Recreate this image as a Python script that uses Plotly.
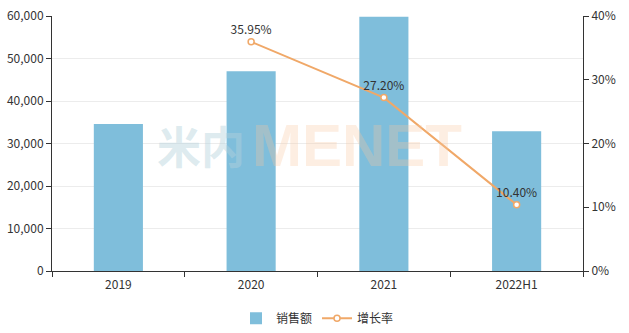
import plotly.graph_objects as go

categories = ["2019", "2020", "2021", "2022H1"]
sales = [34600, 47000, 59800, 32900]
growth = [None, 35.95, 27.20, 10.40]
growth_labels = ["", "35.95%", "27.20%", "10.40%"]
left_ticks = [0, 10000, 20000, 30000, 40000, 50000, 60000]
left_tick_text = ["0", "10,000", "20,000", "30,000", "40,000", "50,000", "60,000"]
right_ticks = [0, 10, 20, 30, 40]
right_tick_text = ["0%", "10%", "20%", "30%", "40%"]

FONT = "Noto Sans CJK SC"
BAR = "#7fbedb"
LINE = "#f0a868"

fig = go.Figure()
fig.add_trace(go.Bar(
    x=categories, y=sales, name="销售额", marker=dict(color=BAR, line=dict(width=0)),
    width=0.37, yaxis="y"))
fig.add_trace(go.Scatter(
    x=categories, y=growth, name="增长率", yaxis="y2",
    mode="lines+markers+text", text=growth_labels, textposition="top center",
    textfont=dict(color="#333", size=12, family=FONT),
    line=dict(color=LINE, width=2),
    marker=dict(size=6, color="white", line=dict(color=LINE, width=1.5))))

fig.add_annotation(x=0.367, y=0.494, xref="paper", yref="paper", xanchor="right",
                   text="<b>米内</b>",
                   showarrow=False, font=dict(size=44, color="rgba(180,210,220,0.45)",
                                              family=FONT, weight="bold"))
fig.add_annotation(x=0.373, y=0.494, xref="paper", yref="paper", xanchor="left",
                   text="<b>MENET</b>",
                   showarrow=False, font=dict(size=60, color="rgba(250,200,160,0.3)", family="Liberation Sans"))

fig.update_layout(
    width=629, height=333, margin=dict(l=52, r=46, t=16, b=62, autoexpand=False),
    paper_bgcolor="white", plot_bgcolor="white",
    font=dict(family=FONT, size=12, color="#333"),
    xaxis=dict(type="category", showline=True, linecolor="#333", linewidth=1,
               ticks="outside", ticklen=5, tickcolor="#333", tickson="boundaries",
               showgrid=False, tickfont=dict(color="#333", size=12), automargin=False,
               ticklabelstandoff=3),
    yaxis=dict(range=[0, 60000], tickvals=left_ticks, ticktext=left_tick_text,
               showline=True, linecolor="#333", linewidth=1, ticks="outside", ticklen=5,
               tickcolor="#333", showgrid=True, gridcolor="#ececec", zeroline=False,
               tickfont=dict(color="#333", size=12), automargin=False),
    yaxis2=dict(range=[0, 40], tickvals=right_ticks, ticktext=right_tick_text, overlaying="y",
                side="right", showline=True, linecolor="#333", linewidth=1, ticks="outside",
                ticklen=5, tickcolor="#333", showgrid=False, zeroline=False,
                tickfont=dict(color="#333", size=12), automargin=False),
    legend=dict(orientation="h", x=0.5, xanchor="center", y=-0.185, yanchor="middle",
                font=dict(size=12, color="#333", family=FONT), itemwidth=30),
)
fig.write_html("out.html")
